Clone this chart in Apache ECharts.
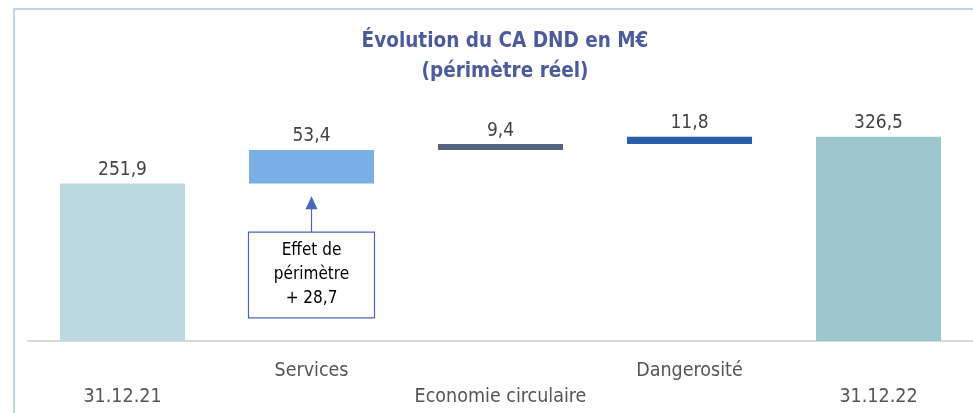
<!DOCTYPE html>
<html>
<head>
<meta charset="utf-8">
<script src="https://cdn.jsdelivr.net/npm/echarts@6/dist/echarts.min.js"></script>
<style>
  html, body { margin: 0; padding: 0; background: #fff; }
  #chart { width: 973px; height: 413px; }
</style>
</head>
<body>
<div id="chart"></div>
<script>
// données (M€)
const categories = ['31.12.21', 'Services', 'Economie circulaire', 'Dangerosité', '31.12.22'];
const values = [251.9, 53.4, 9.4, 11.8, 326.5];
const isTotal = [true, false, false, false, true];
const colors = ['#bcd9df', '#7aafe5', '#56647f', '#2a5ea8', '#9dc6cc'];
const annotation = ['Effet de', 'périmètre', '+ 28,7'];

// base invisible de la cascade
const bases = [];
let running = 0;
values.forEach((v, i) => {
    if (isTotal[i]) {
        bases.push(0);
        running = v;
    } else {
        bases.push(+running.toFixed(1));
        running += v;
    }
});

const font = '"Liberation Sans Narrow", "DejaVu Sans Condensed", "Roboto", sans-serif';
const fmt = v => v.toFixed(1).replace('.', ',');

const chart = echarts.init(document.getElementById('chart'));
chart.setOption({
    animation: false,
    title: {
        text: 'Évolution du CA DND en M€\n(périmètre réel)',
        left: 500,
        textAlign: 'center',
        top: 22,
        textStyle: {
            color: '#4a5c9c',
            fontSize: 20.5,
            fontWeight: 'bold',
            fontFamily: font,
            lineHeight: 30
        }
    },
    grid: {
        left: 28,
        right: 0,
        top: 122,
        bottom: 72
    },
    xAxis: {
        type: 'category',
        data: categories,
        axisTick: {show: false},
        axisLine: {lineStyle: {color: '#d9d9d9', width: 2}},
        axisLabel: {
            interval: 0,
            margin: 17,
            color: '#555',
            fontSize: 19.5,
            fontFamily: font,
            lineHeight: 26,
            formatter: (value, idx) => idx % 2 === 1 ? value : '\n' + value
        }
    },
    yAxis: {
        type: 'value',
        min: 0,
        max: 350,
        show: false
    },
    series: [
        {
            type: 'bar',
            stack: 'wf',
            data: bases,
            barWidth: 125,
            itemStyle: {color: 'transparent'},
            silent: true
        },
        {
            type: 'bar',
            stack: 'wf',
            data: values.map((v, i) => ({value: v, itemStyle: {color: colors[i]}})),
            barWidth: 125,
            label: {
                show: true,
                position: 'top',
                distance: 4,
                color: '#444',
                fontSize: 19,
                fontFamily: font,
                formatter: p => fmt(p.value)
            }
        }
    ]
});

// cadre + encadré "effet de périmètre"
const cx = chart.convertToPixel({xAxisIndex: 0}, 'Services');
const tipY = chart.convertToPixel({yAxisIndex: 0}, 228);
const boxTop = chart.convertToPixel({yAxisIndex: 0}, 174);
const boxBottom = chart.convertToPixel({yAxisIndex: 0}, 37);
const boxW = 126;

chart.setOption({
    graphic: [
        {
            type: 'polyline',
            shape: {points: [[14, 413], [14, 9], [973, 9]]},
            style: {stroke: '#aac3e6', lineWidth: 1.5, fill: null}
        },
        {
            type: 'line',
            shape: {x1: cx, y1: tipY + 10, x2: cx, y2: boxTop},
            style: {stroke: '#4a68b8', lineWidth: 1.2}
        },
        {
            type: 'polygon',
            shape: {points: [[cx, tipY - 2], [cx - 6, tipY + 11], [cx + 6, tipY + 11]]},
            style: {fill: '#4a68b8'}
        },
        {
            type: 'rect',
            shape: {x: cx - boxW / 2, y: boxTop, width: boxW, height: boxBottom - boxTop},
            style: {fill: '#fff', stroke: '#4a68b8', lineWidth: 1.2}
        },
        {
            type: 'text',
            x: cx,
            y: (boxTop + boxBottom) / 2,
            style: {
                text: annotation.join('\n'),
                align: 'center',
                verticalAlign: 'middle',
                fill: '#000',
                fontSize: 17,
                fontWeight: 500,
                lineHeight: 24,
                fontFamily: font
            }
        }
    ]
});
</script>
</body>
</html>
